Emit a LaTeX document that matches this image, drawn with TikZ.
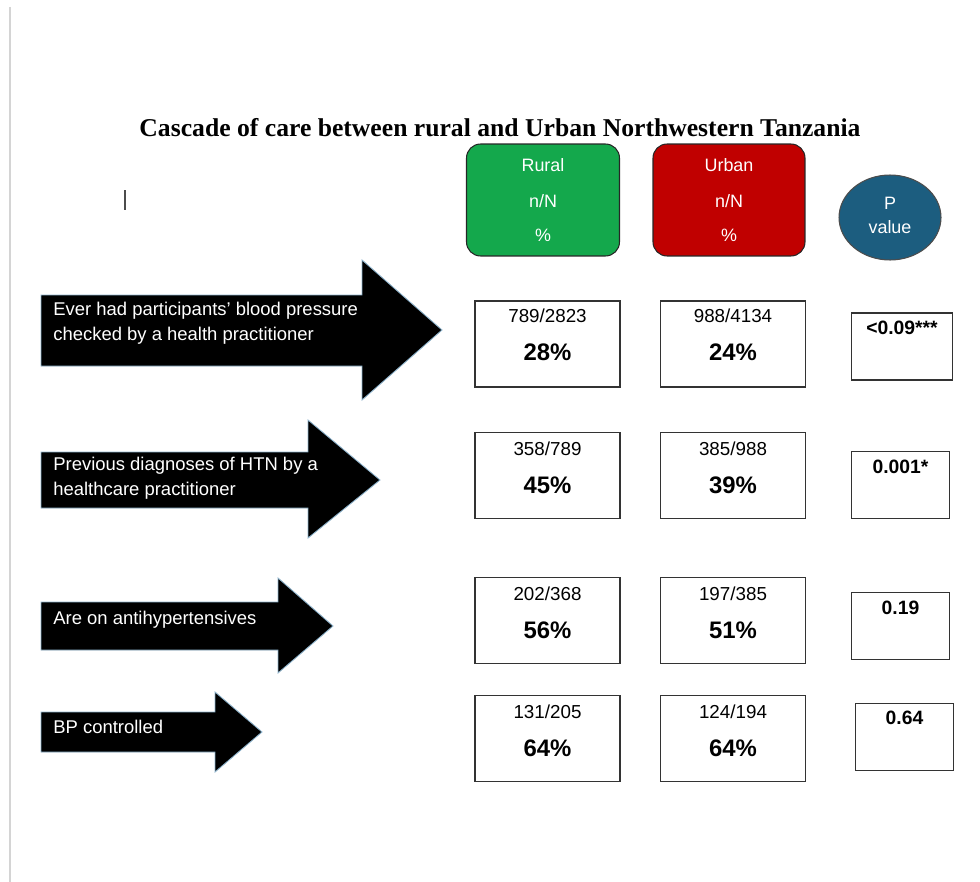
\documentclass[tikz,border=0pt]{standalone}
\usepackage{fontspec}
\setmainfont{Liberation Serif}
\setsansfont{Liberation Sans}
\usepackage{tikz}
\usetikzlibrary{shapes.geometric,positioning,calc}
\definecolor{ruralgreen}{HTML}{14A84C}
\definecolor{urbanred}{HTML}{C00000}
\definecolor{pvalblue}{HTML}{1C5D7F}
\definecolor{arrowedge}{HTML}{8DB3CC}
\definecolor{pagegrey}{HTML}{D4D4D4}

\begin{document}
\begin{tikzpicture}[x=0.02cm, y=-0.02cm,
  header/.style={rectangle, rounded corners=0.28cm, draw=black!85, line width=0.6pt, minimum height=2.24cm},
  headtext/.style={font=\sffamily\fontsize{10.2}{12}\selectfont, text=white, inner sep=0pt},
  stepshape/.style={fill=black, draw=arrowedge, line width=0.5pt},
  steptext/.style={font=\sffamily\fontsize{10.5}{14}\selectfont, text=white, align=left, anchor=west, inner sep=0pt},
  databox/.style={rectangle, draw=black!80, line width=0.6pt, minimum width=2.9cm, minimum height=1.72cm},
  pbox/.style={rectangle, draw=black!80, line width=0.6pt, minimum width=1.96cm, minimum height=1.34cm},
  frac/.style={font=\sffamily\fontsize{10.7}{12}\selectfont, inner sep=0pt},
  pct/.style={font=\sffamily\bfseries\fontsize{13.6}{15}\selectfont, inner sep=0pt},
  ptext/.style={font=\sffamily\bfseries\fontsize{11}{12}\selectfont, inner sep=0pt}]
\useasboundingbox (0,0) rectangle (980,882);
\draw[pagegrey, line width=0.8pt] (10,7) -- (10,882);
\draw[black!70, line width=0.8pt] (125,190) -- (125,210);

\node[font=\bfseries\fontsize{14.6}{17}\selectfont] (title) at (500,128) {Cascade of care between rural and Urban Northwestern Tanzania};

% column heads
\node[header, fill=ruralgreen, minimum width=3.06cm] (rural) at (543,200) {};
\node[headtext] (ruralA) at (543,165) {Rural};
\node[headtext] (ruralB) at (543,201) {n/N};
\node[headtext] (ruralC) at (543,235) {\%};
\node[header, fill=urbanred, minimum width=3.04cm] (urban) at (729,200) {};
\node[headtext] (urbanA) at (729,165) {Urban};
\node[headtext] (urbanB) at (729,201) {n/N};
\node[headtext] (urbanC) at (729,235) {\%};
\node[ellipse, fill=pvalblue, draw=black!70, line width=0.6pt, minimum width=2.04cm, minimum height=1.7cm] (pval) at (890,217.5) {};
\node[headtext] (pvalA) at (890,203) {P};
\node[headtext] (pvalB) at (890,227) {value};

% steps of the cascade
\draw[stepshape] (41,295) -- (362,295) -- (362,260) -- (442,330) -- (362,400) -- (362,366) -- (41,366) -- cycle;
\node[steptext] (step1) at (53,323) {Ever had participants' blood pressure\\checked by a health practitioner};
\draw[stepshape] (41,452) -- (308,452) -- (308,420) -- (380,480) -- (308,538) -- (308,508) -- (41,508) -- cycle;
\node[steptext] (step2) at (53,478) {Previous diagnoses of HTN by a\\healthcare practitioner};
\draw[stepshape] (41,602) -- (278,602) -- (278,578) -- (333,626) -- (278,673) -- (278,650) -- (41,650) -- cycle;
\node[steptext] (step3) at (53,620) {Are on antihypertensives};
\draw[stepshape] (41,712) -- (215,712) -- (215,692) -- (262,732) -- (215,772) -- (215,752) -- (41,752) -- cycle;
\node[steptext] (step4) at (53,727) {BP controlled};

% row 1
\node[databox] (rur1) at (547.5,344) {};
\node[frac] (rur1f) at (547.5,316) {789/2823};
\node[pct] (rur1p) at (547.5,352) {28\%};
\node[databox] (urb1) at (733,344) {};
\node[frac] (urb1f) at (733,316) {988/4134};
\node[pct] (urb1p) at (733,352) {24\%};
\node[pbox, minimum width=2.02cm] (pv1) at (902,346.5) {};
\node[ptext] (pv1t) at (902,328) {<0.09***};

% row 2
\node[databox] (rur2) at (547.5,475.5) {};
\node[frac] (rur2f) at (547.5,449) {358/789};
\node[pct] (rur2p) at (547.5,485) {45\%};
\node[databox] (urb2) at (733,475.5) {};
\node[frac] (urb2f) at (733,449) {385/988};
\node[pct] (urb2p) at (733,485) {39\%};
\node[pbox] (pv2) at (900.5,485) {};
\node[ptext] (pv2t) at (900.5,467) {0.001*};

% row 3
\node[databox] (rur3) at (547.5,620.5) {};
\node[frac] (rur3f) at (547.5,594) {202/368};
\node[pct] (rur3p) at (547.5,630) {56\%};
\node[databox] (urb3) at (733,620.5) {};
\node[frac] (urb3f) at (733,594) {197/385};
\node[pct] (urb3p) at (733,630) {51\%};
\node[pbox] (pv3) at (900.5,626) {};
\node[ptext] (pv3t) at (900.5,608) {0.19};

% row 4
\node[databox] (rur4) at (547.5,738.5) {};
\node[frac] (rur4f) at (547.5,712) {131/205};
\node[pct] (rur4p) at (547.5,748) {64\%};
\node[databox] (urb4) at (733,738.5) {};
\node[frac] (urb4f) at (733,712) {124/194};
\node[pct] (urb4p) at (733,748) {64\%};
\node[pbox] (pv4) at (904.5,737) {};
\node[ptext] (pv4t) at (904.5,718) {0.64};
\end{tikzpicture}
\end{document}
